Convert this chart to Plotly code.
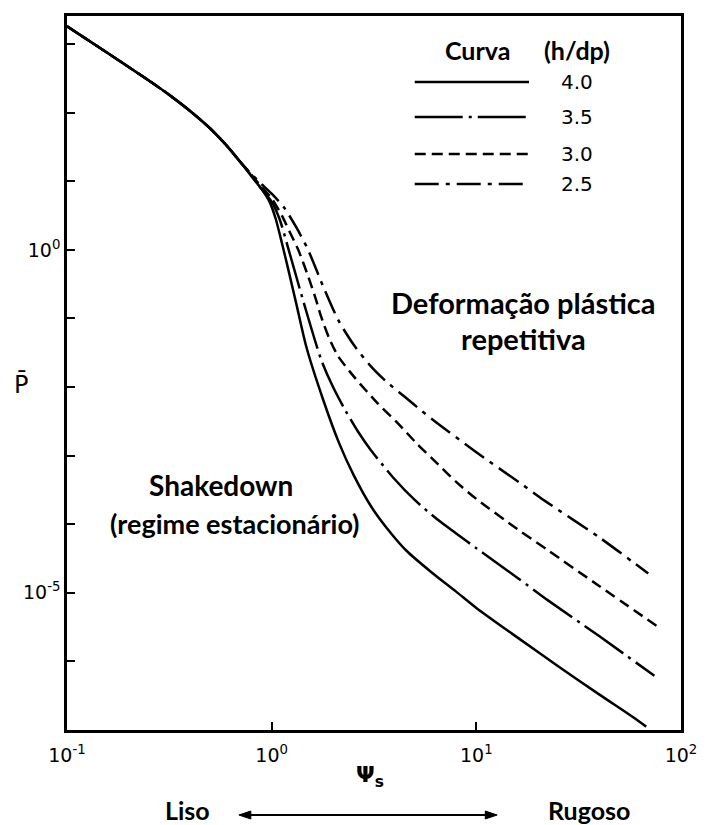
import plotly.graph_objects as go

# ---- data (psi_s, P-bar) ----
psi_40 = [0.1, 0.158, 0.251, 0.316, 0.398, 0.501, 0.603, 0.708, 0.794, 0.891, 0.977, 1.047,
          1.122, 1.202, 1.318, 1.479, 1.778, 2.138, 2.512, 3.09, 3.80, 4.57, 6.03, 7.94, 10.0,
          15.85, 25.1, 39.8, 58.9, 67.6]
p_40 = [1820, 741, 295, 182, 107, 58.9, 33.1, 18.6, 12.0, 7.76, 5.01, 2.82, 1.259, 0.537,
        0.166, 0.0380, 6.76e-3, 1.51e-3, 5.25e-4, 1.74e-4, 7.59e-5, 4.07e-5, 2.00e-5, 1.05e-5,
        6.03e-6, 2.24e-6, 8.51e-7, 3.31e-7, 1.51e-7, 1.12e-7]

psi_35 = [0.1, 0.158, 0.251, 0.316, 0.398, 0.501, 0.603, 0.708, 0.794, 0.891, 1.0, 1.096, 1.211,
          1.445, 1.750, 1.995, 2.291, 2.630, 3.055, 3.981, 5.012, 6.457, 7.943, 10.0, 15.85,
          22.39, 39.81, 74.13]
p_35 = [1820, 741, 295, 182, 107, 58.9, 33.1, 18.6, 12.3, 7.76, 5.01, 2.75, 1.0, 0.158,
        0.0245, 0.01, 4.57e-3, 2.29e-3, 1.20e-3, 4.57e-4, 2.24e-4, 1.17e-4, 7.41e-5,
        4.47e-5, 1.66e-5, 7.76e-6, 2.34e-6, 6.17e-7]

psi_30 = [0.1, 0.158, 0.251, 0.316, 0.398, 0.501, 0.603, 0.708, 0.794, 0.891, 1.0, 1.122, 1.230,
          1.349, 1.514, 1.652, 1.738, 1.905, 2.113, 2.559, 3.304, 4.140, 5.176, 6.471, 7.943,
          10.0, 15.85, 22.13, 39.81, 75.86]
p_30 = [1820, 741, 295, 182, 107, 58.9, 33.1, 18.6, 12.6, 8.32, 5.62, 3.16, 1.778, 1.0,
        0.398, 0.182, 0.110, 0.0525, 0.0282, 0.0135, 5.75e-3, 2.95e-3, 1.45e-3, 7.59e-4,
        4.17e-4, 2.34e-4, 8.51e-5, 4.27e-5, 1.26e-5, 3.31e-6]

psi_25 = [0.1, 0.158, 0.251, 0.316, 0.398, 0.501, 0.603, 0.708, 0.794, 0.891, 1.0, 1.148, 1.318,
          1.496, 1.778, 2.113, 2.512, 3.055, 3.631, 4.467, 5.370, 6.471, 10.0, 16.22, 21.63,
          39.81, 69.18]
p_25 = [1820, 741, 295, 182, 107, 58.9, 33.1, 18.6, 12.9, 9.12, 6.61, 4.17, 2.14, 1.05,
        0.302, 0.0955, 0.0417, 0.0200, 0.0120, 7.24e-3, 4.57e-3, 2.95e-3, 1.12e-3, 4.07e-4,
        2.19e-4, 6.46e-5, 1.91e-5]

curve_labels = ["4.0", "3.5", "3.0", "2.5"]

x_tickvals = [0.1, 1, 10, 100]
x_ticktext = ["10<sup>-1</sup>", "10<sup>0</sup>", "10<sup>1</sup>", "10<sup>2</sup>"]
y_tickvals = [1e-5, 1e0]
y_ticktext = ["10<sup>-5</sup>", "10<sup>0</sup>"]
y_minor_vals = [1e-6, 1e-4, 1e-3, 1e-2, 1e-1, 1e1, 1e2, 1e3]

# ---- styling ----
dashes = ["solid", "48px,6px,3px,6px", "11px,6px", "24px,7px,4px,7px"]
LW = 2.5
W, H = 709, 825
ML, MR, MT, MB = 67, 24, 16, 95
PW, PH = W - ML - MR, H - MT - MB


def px(x):
    return (x - ML) / PW


def py(y):
    return (H - MB - y) / PH


fig = go.Figure()
series = [(psi_40, p_40), (psi_35, p_35), (psi_30, p_30), (psi_25, p_25)]
for (xs, ys), lab, d in zip(series, curve_labels, dashes):
    fig.add_trace(go.Scatter(x=xs, y=ys, mode="lines", name=lab,
                             line=dict(color="black", width=LW, dash=d,
                                       shape="spline", smoothing=0.7),
                             showlegend=False, hoverinfo="skip"))

TXT = "Lato"
NUM = "DejaVu Sans"
annotations = []
shapes = []


def label(text, x, y, family, size):
    annotations.append(dict(text=text, x=px(x), y=py(y), xref="paper", yref="paper",
                            xanchor="center", yanchor="middle", showarrow=False,
                            font=dict(family=family, size=size, color="black")))


# ---- legend drawn by hand ----
label("<b>Curva</b>", 480, 50, TXT, 25)
label("<b>(h/dp)</b>", 580, 50, TXT, 25)
rows = [82, 117, 154, 184]
for lab, d, r in zip(curve_labels, dashes, rows):
    shapes.append(dict(type="line", xref="paper", yref="paper", x0=px(417), x1=px(532),
                       y0=py(r), y1=py(r), line=dict(color="black", width=LW, dash=d)))
    label(lab, 580, r, NUM, 20)

# ---- region labels ----
label("<b>Deformação plástica</b>", 526, 302, TXT, 29)
label("<b>repetitiva</b>", 526, 339, TXT, 29)
label("<b>Shakedown</b>", 222, 485, TXT, 28)
label("<b>(regime estacionário)</b>", 236, 523, TXT, 27)

# axis labels
label("P\u0304", 21, 385, NUM, 24)
label("<b>\u03a8<sub>s</sub></b>", 372, 776, NUM, 22)
label("<b>Liso</b>", 188, 810, TXT, 25)
label("<b>Rugoso</b>", 592, 810, TXT, 25)

# double-headed arrow under the x axis
AY = 815
shapes.append(dict(type="line", xref="paper", yref="paper", x0=px(246), x1=px(494),
                   y0=py(AY), y1=py(AY), line=dict(color="black", width=2)))
for tip, back in [(240, 252), (500, 488)]:
    shapes.append(dict(type="path", xref="paper", yref="paper",
                       path=f"M {px(tip)} {py(AY)} L {px(back)} {py(AY - 4)} "
                            f"L {px(back)} {py(AY + 4)} Z",
                       fillcolor="black", line=dict(color="black", width=1)))

axis_common = dict(showline=True, mirror=True, linecolor="black", linewidth=2.5,
                   showgrid=False, zeroline=False, ticks="inside", ticklen=8, tickwidth=2,
                   tickcolor="black", tickfont=dict(family=NUM, size=19, color="black"))

fig.update_layout(
    width=W, height=H,
    margin=dict(l=ML, r=MR, t=MT, b=MB),
    paper_bgcolor="white", plot_bgcolor="white",
    xaxis=dict(type="log", range=[-1, 2], tickmode="array", tickvals=x_tickvals,
               ticktext=x_ticktext, ticklabelstandoff=6, **axis_common),
    yaxis=dict(type="log", range=[-7.0, 3.41], tickmode="array", tickvals=y_tickvals,
               ticktext=y_ticktext,
               minor=dict(tickmode="array", tickvals=y_minor_vals, ticks="inside",
                          ticklen=8, tickwidth=2, tickcolor="black", showgrid=False),
               **axis_common),
    annotations=annotations,
    shapes=shapes,
    showlegend=False,
)

fig.write_html("out.html", config={"displayModeBar": False},
               post_script="document.body.style.margin='0';document.body.style.overflow='hidden';")
